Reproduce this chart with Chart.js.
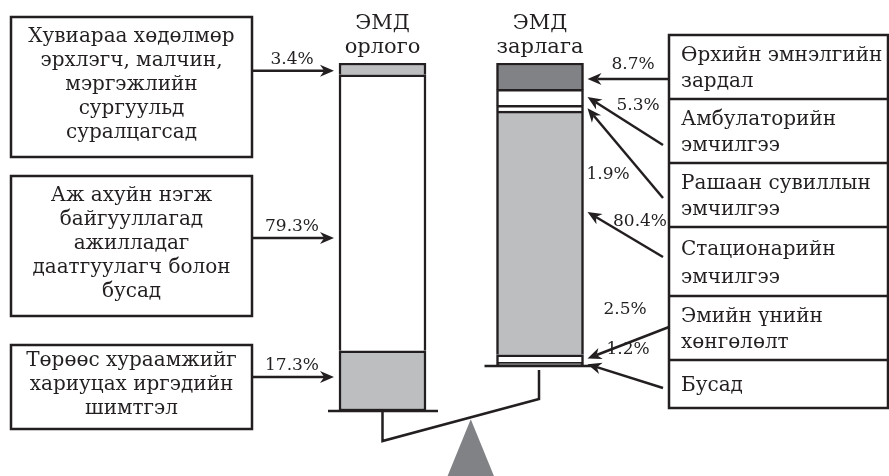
<!DOCTYPE html>
<html>
<head>
<meta charset="utf-8">
<script src="https://cdn.jsdelivr.net/npm/chart.js@4.4.0/dist/chart.umd.min.js"></script>
<style>
html, body { margin: 0; padding: 0; background: #fff; }
#wrap { width: 889px; height: 476px; }
</style>
</head>
<body>
<div id="wrap"><canvas id="balanceChart" width="889" height="476"></canvas></div>
<script>
const sides = ['ЭМД орлого', 'ЭМД зарлага'];

// орлого, дээрээс доош
const incomeItems = [
    ['Хувиараа хөдөлмөр', 'эрхлэгч, малчин,', 'мэргэжлийн', 'сургуульд', 'суралцагсад'],
    ['Аж ахуйн нэгж', 'байгууллагад', 'ажилладаг', 'даатгуулагч болон', 'бусад'],
    ['Төрөөс хураамжийг', 'хариуцах иргэдийн', 'шимтгэл'],
];
const incomeShares = [3.4, 79.3, 17.3];

// зарлага, дээрээс доош
const expenseItems = [
    ['Өрхийн эмнэлгийн', 'зардал'],
    ['Амбулаторийн', 'эмчилгээ'],
    ['Рашаан сувиллын', 'эмчилгээ'],
    ['Стационарийн', 'эмчилгээ'],
    ['Эмийн үнийн', 'хөнгөлөлт'],
    ['Бусад'],
];
const expenseShares = [8.7, 5.3, 1.9, 80.4, 2.5, 1.2];

const incomeFill = ['#bcbec0', '#ffffff', '#bcbec0'];
const expenseFill = ['#808285', '#ffffff', '#ffffff', '#bcbec0', '#ffffff', '#808285'];

const INK = '#231f20';
const SERIF = '"DejaVu Serif", "Liberation Serif", serif';

// layout of the boxes around the bars
const leftBoxes = [[17, 157], [176, 316], [345, 429]];
const leftArrowY = [80, 238, 377];
const rightRows = [35, 99, 163, 227, 296, 360, 408];
const rightArrowFrom = [[669, 79], [663, 145], [663, 198], [663, 257], [669, 327], [663, 388]];
const rightAim = [79, 97, 115, 212, 327, 353];
const rightPct = [[633, 65], [638, 106], [608, 175], [640, 222], [625, 310], [628, 350]];

const datasets = [];
const incomeSet = [];
const expenseSet = [];
const edge = (bottom) => ({ top: 2.5, left: 2.5, right: 2.5, bottom: bottom ? 2.5 : 0 });

for (let i = incomeShares.length - 1; i >= 0; i--) {
    incomeSet[i] = datasets.length;
    datasets.push({
        label: incomeItems[i].join(' '),
        data: [incomeShares[i], null],
        backgroundColor: incomeFill[i],
        borderWidth: edge(i === incomeShares.length - 1),
        yAxisID: 'y',
    });
}
for (let i = expenseShares.length - 1; i >= 0; i--) {
    expenseSet[i] = datasets.length;
    datasets.push({
        label: expenseItems[i].join(' '),
        data: [null, expenseShares[i]],
        backgroundColor: expenseFill[i],
        borderWidth: edge(i === expenseShares.length - 1),
        yAxisID: 'y2',
    });
}

function segment(chart, dsIndex, col) {
    const el = chart.getDatasetMeta(dsIndex).data[col];
    return {
        left: el.x - el.width / 2,
        right: el.x + el.width / 2,
        top: Math.min(el.y, el.base),
        bottom: Math.max(el.y, el.base),
        x: el.x,
    };
}

function aimInside(seg, y) {
    const m = Math.min(4, (seg.bottom - seg.top) / 2);
    return Math.max(seg.top + m, Math.min(seg.bottom - m, y));
}

function arrow(ctx, x0, y0, x1, y1) {
    const a = Math.atan2(y1 - y0, x1 - x0);
    const len = 14, half = 6;
    const bx = x1 - len * Math.cos(a), by = y1 - len * Math.sin(a);
    const nx = x1 - len * 0.7 * Math.cos(a), ny = y1 - len * 0.7 * Math.sin(a);
    ctx.beginPath();
    ctx.moveTo(x0, y0);
    ctx.lineTo(nx, ny);
    ctx.stroke();
    ctx.beginPath();
    ctx.moveTo(x1, y1);
    ctx.lineTo(bx + half * Math.sin(a), by - half * Math.cos(a));
    ctx.lineTo(nx, ny);
    ctx.lineTo(bx - half * Math.sin(a), by + half * Math.cos(a));
    ctx.closePath();
    ctx.fill();
}

const pct = (v) => v.toFixed(1) + '%';

const diagram = {
    id: 'diagram',
    afterDatasetsDraw(chart) {
        const ctx = chart.ctx;
        const xs = chart.scales.x;
        ctx.save();
        ctx.strokeStyle = INK;
        ctx.fillStyle = INK;
        ctx.lineWidth = 2.5;

        // titles over the bars
        ctx.font = '21px ' + SERIF;
        ctx.textAlign = 'center';
        ctx.textBaseline = 'middle';
        sides.forEach((s, i) => {
            const x = xs.getPixelForValue(i);
            const parts = s.split(' ');
            ctx.fillText(parts[0], x, 24);
            ctx.fillText(parts[1], x, 48);
        });

        // income boxes
        ctx.font = '20px ' + SERIF;
        incomeItems.forEach((lines, i) => {
            const [y0, y1] = leftBoxes[i];
            ctx.strokeRect(11, y0, 241, y1 - y0);
            const mid = (y0 + y1) / 2 - 2;
            lines.forEach((t, k) => {
                ctx.fillText(t, 131.5, mid + (k - (lines.length - 1) / 2) * 24);
            });
        });
        incomeShares.forEach((v, i) => {
            const seg = segment(chart, incomeSet[i], 0);
            const y = aimInside(seg, leftArrowY[i]);
            arrow(ctx, 252, y, seg.left - 5, y);
            ctx.font = '17px ' + SERIF;
            ctx.textBaseline = 'alphabetic';
            ctx.fillText(pct(v), 292, y - 7);
            ctx.textBaseline = 'middle';
        });

        // expense boxes
        ctx.strokeRect(669, rightRows[0], 219, rightRows[rightRows.length - 1] - rightRows[0]);
        ctx.textAlign = 'left';
        expenseItems.forEach((lines, i) => {
            const y0 = rightRows[i], y1 = rightRows[i + 1];
            if (i > 0) {
                ctx.beginPath();
                ctx.moveTo(669, y0);
                ctx.lineTo(889, y0);
                ctx.stroke();
            }
            ctx.font = '20px ' + SERIF;
            const mid = (y0 + y1) / 2 + 2;
            const pitch = lines.length > 1 ? Math.min(28, (y1 - y0) * 0.4) : 0;
            lines.forEach((t, k) => {
                ctx.fillText(t, 681, mid + (k - (lines.length - 1) / 2) * pitch);
            });
        });
        ctx.textAlign = 'center';
        expenseShares.forEach((v, i) => {
            const seg = segment(chart, expenseSet[i], 1);
            const [fx, fy] = rightArrowFrom[i];
            arrow(ctx, fx, fy, seg.right + 4, aimInside(seg, rightAim[i]));
            ctx.font = '17px ' + SERIF;
            ctx.fillText(pct(v), rightPct[i][0], rightPct[i][1]);
        });

        // the balance
        const lb = segment(chart, incomeSet[incomeSet.length - 1], 0);
        const rb = segment(chart, expenseSet[expenseSet.length - 1], 1);
        const beamL = [lb.x, lb.bottom + 30];
        const beamR = [rb.x - 1, rb.bottom + 33];
        const t = 0.564;
        const apex = [beamL[0] + (beamR[0] - beamL[0]) * t, beamL[1] + (beamR[1] - beamL[1]) * t + 2];
        ctx.fillStyle = '#808285';
        ctx.beginPath();
        ctx.moveTo(apex[0], apex[1]);
        ctx.lineTo(apex[0] - 24, 478);
        ctx.lineTo(apex[0] + 24, 478);
        ctx.closePath();
        ctx.fill();

        ctx.beginPath();
        ctx.moveTo(lb.left - 11, lb.bottom);
        ctx.lineTo(lb.right + 12, lb.bottom);
        ctx.moveTo(lb.x, lb.bottom);
        ctx.lineTo(beamL[0], beamL[1]);
        ctx.lineTo(beamR[0], beamR[1]);
        ctx.lineTo(beamR[0], rb.bottom + 4);
        ctx.moveTo(rb.left - 12, rb.bottom);
        ctx.lineTo(rb.right + 13, rb.bottom);
        ctx.stroke();
        ctx.restore();
    },
};

new Chart(document.getElementById('balanceChart').getContext('2d'), {
    type: 'bar',
    data: { labels: sides, datasets: datasets },
    options: {
        responsive: false,
        animation: false,
        events: [],
        layout: { padding: { left: 303.75, right: 270.25, top: 63, bottom: 65 } },
        datasets: {
            bar: {
                barThickness: 87,
                borderColor: INK,
                borderSkipped: false,
                stack: 'balance',
            },
        },
        scales: {
            x: { display: false, stacked: true, offset: true },
            y: { display: false, stacked: true, min: 0, max: 100 },
            y2: { display: false, stacked: true, min: -14.85, max: 100, position: 'right' },
        },
        plugins: {
            legend: { display: false },
            tooltip: { enabled: false },
        },
    },
    plugins: [diagram],
});
</script>
</body>
</html>
